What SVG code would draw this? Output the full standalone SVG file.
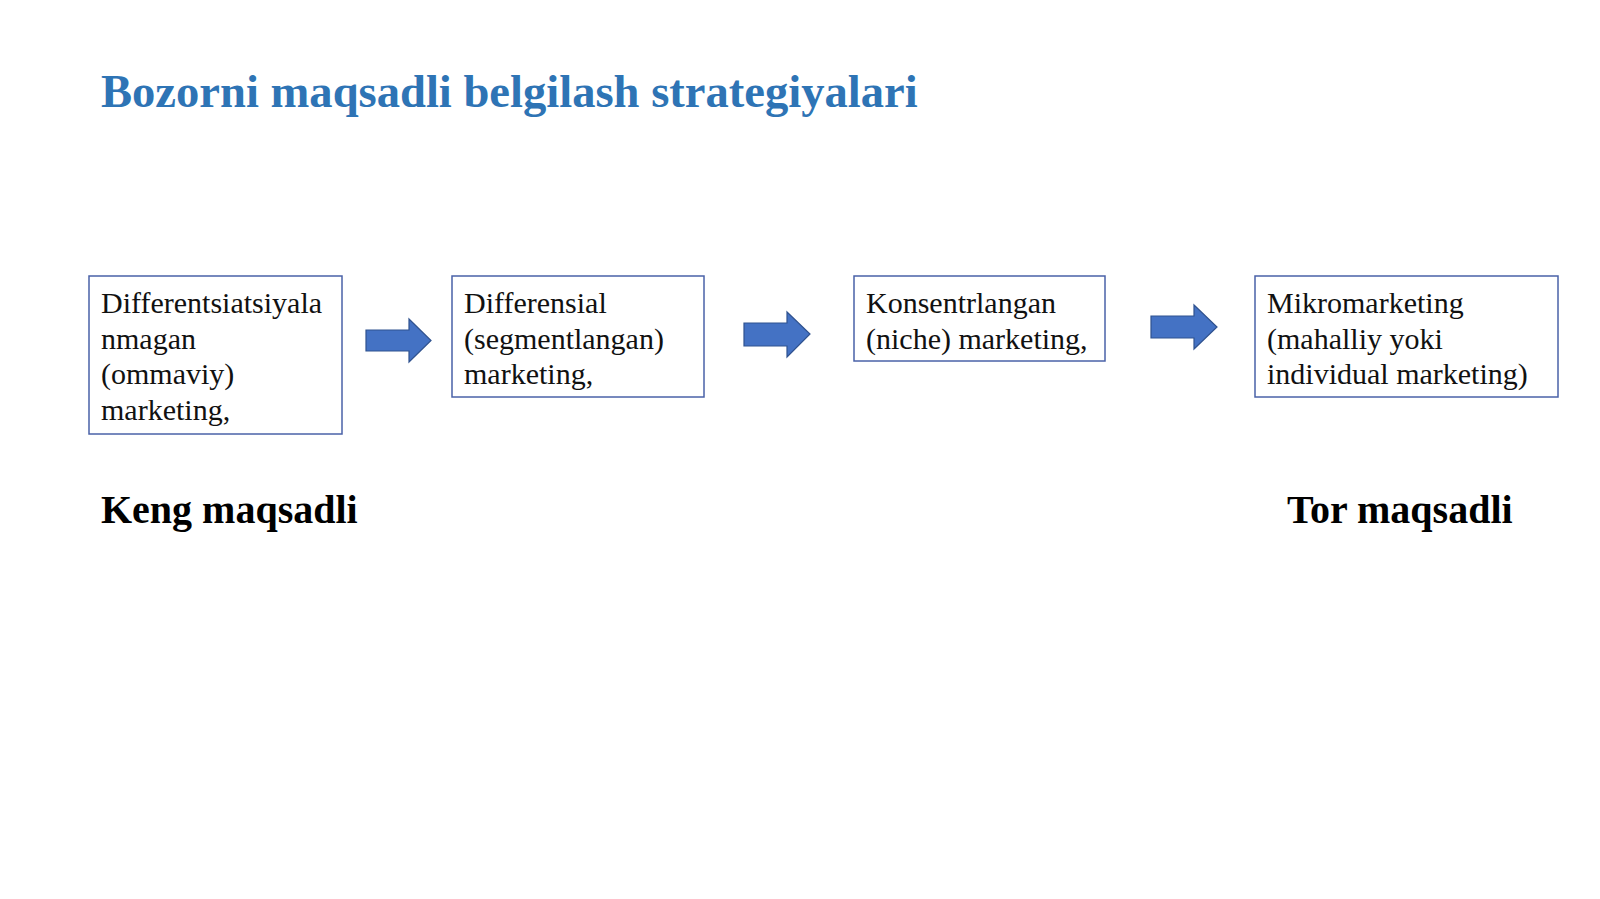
<svg xmlns="http://www.w3.org/2000/svg" width="1600" height="899" viewBox="0 0 1600 899">
  <style>
    .title { font-family: "Liberation Serif", "Times New Roman", serif; font-weight: bold; font-size: 46.6px; fill: #2E74B5; }
    .label { font-family: "Liberation Serif", "Times New Roman", serif; font-weight: bold; font-size: 40px; fill: #000000; }
    .box { fill: #FFFFFF; stroke: #4A62A8; stroke-width: 1.5; }
    .txt { font-family: "Liberation Serif", "Times New Roman", serif; font-size: 30px; fill: #111111; }
    .arrow { fill: #4472C4; stroke: #2F528F; stroke-width: 1.2; }
  </style>
  <rect x="0" y="0" width="1600" height="899" fill="#FFFFFF"/>
  <text class="title" x="101" y="107">Bozorni maqsadli belgilash strategiyalari</text>

  <g id="node-1">
    <rect class="box" x="89" y="276" width="253" height="158"/>
    <text class="txt" x="101" y="313">Differentsiatsiyala</text>
    <text class="txt" x="101" y="349">nmagan</text>
    <text class="txt" x="101" y="384">(ommaviy)</text>
    <text class="txt" x="101" y="420">marketing,</text>
  </g>
  <g id="node-2">
    <rect class="box" x="452" y="276" width="252" height="121"/>
    <text class="txt" x="464" y="313">Differensial</text>
    <text class="txt" x="464" y="349">(segmentlangan)</text>
    <text class="txt" x="464" y="384">marketing,</text>
  </g>
  <g id="node-3">
    <rect class="box" x="854" y="276" width="251" height="85"/>
    <text class="txt" x="866" y="313">Konsentrlangan</text>
    <text class="txt" x="866" y="349">(niche) marketing,</text>
  </g>
  <g id="node-4">
    <rect class="box" x="1255" y="276" width="303" height="121"/>
    <text class="txt" x="1267" y="313">Mikromarketing</text>
    <text class="txt" x="1267" y="349">(mahalliy yoki</text>
    <text class="txt" x="1267" y="384">individual marketing)</text>
  </g>

  <g id="connectors">
    <path class="arrow" d="M366,330 L409,330 L409,319 L431,340.5 L409,362 L409,351 L366,351 Z"/>
    <path class="arrow" d="M744,323 L787,323 L787,312 L810,334 L787,357 L787,346 L744,346 Z"/>
    <path class="arrow" d="M1151,316 L1194,316 L1194,305 L1217,327 L1194,349 L1194,338 L1151,338 Z"/>
  </g>

  <text class="label" x="101" y="523">Keng maqsadli</text>
  <text class="label" x="1287" y="523">Tor maqsadli</text>
</svg>
